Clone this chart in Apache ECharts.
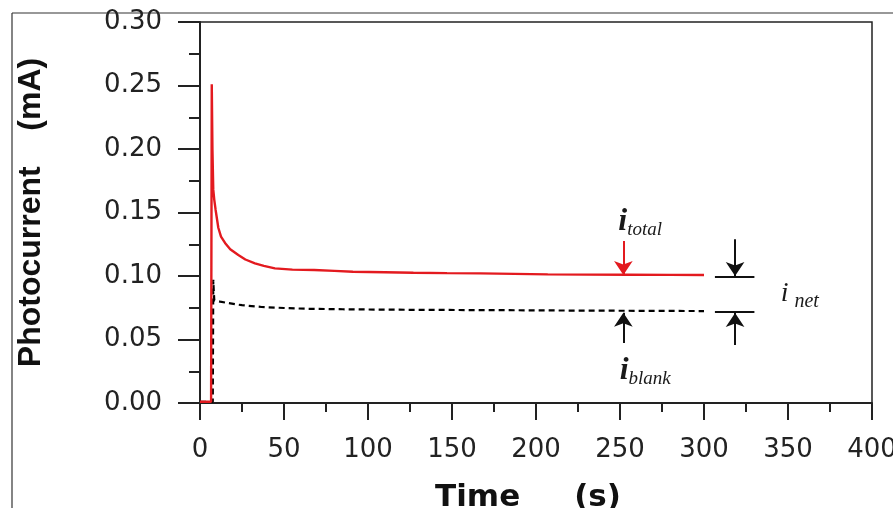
<!DOCTYPE html>
<html>
<head>
<meta charset="utf-8">
<script src="https://cdn.jsdelivr.net/npm/echarts@6/dist/echarts.min.js"></script>
<style>
html,body{margin:0;padding:0;background:#fff;}
#c{width:893px;height:508px;}
</style>
</head>
<body>
<div id="c"></div>
<script>
// ---- data ----
const xTicks = [0, 50, 100, 150, 200, 250, 300, 350, 400];
const yTicks = ['0.00', '0.05', '0.10', '0.15', '0.20', '0.25', '0.30'];

const timeTotal = [0, 6.6, 7.0, 7.4, 7.9, 8.5, 9.3, 10.9, 12.5, 14.9, 18, 22.8, 27, 32.7, 38, 44.6, 55, 68, 80, 91, 110, 127, 147, 167, 187, 207, 230, 255, 280, 300];
const totalCurrent = [0.001, 0.001, 0.251, 0.200, 0.168, 0.160, 0.152, 0.138, 0.131, 0.126, 0.121, 0.1165, 0.113, 0.110, 0.108, 0.106, 0.105, 0.1047, 0.104, 0.1034, 0.103, 0.1026, 0.1023, 0.1021, 0.1017, 0.1013, 0.1011, 0.1010, 0.1009, 0.1008];

const timeBlank = [0, 7.6, 7.9, 8.2, 8.5, 10, 12, 16.7, 25, 36.7, 50, 64, 85, 110, 140, 178, 220, 260, 300];
const blankCurrent = [0.001, 0.001, 0.097, 0.088, 0.081, 0.0805, 0.0798, 0.0787, 0.0770, 0.0756, 0.0748, 0.0742, 0.0738, 0.0735, 0.0733, 0.0731, 0.0728, 0.0726, 0.0724];

// annotation anchor points (data coordinates)
const arrowTotal = [[252, 0.1276], [252, 0.1008]];
const arrowBlank = [[252, 0.0472], [252, 0.0711]];
const netTopLine = [[306.5, 0.0998], [330, 0.0998]];
const netBotLine = [[306.5, 0.0717], [330, 0.0717]];
const netArrowDown = [[318.5, 0.129], [318.5, 0.1000]];
const netArrowUp = [[318.5, 0.0457], [318.5, 0.0709]];
const labelTotal = [262, 0.1435];
const labelBlank = [265, 0.0262];
const labelNet = [357, 0.0850];

const pair = (xs, ys) => xs.map((x, i) => [x, ys[i]]);
const seg = (p) => [{ coord: p[0] }, { coord: p[1] }];

const chart = echarts.init(document.getElementById('c'), null, { renderer: 'canvas' });

const tickFont = { fontFamily: 'DejaVu Sans', fontSize: 26, color: '#222' };

chart.setOption({
  animation: false,
  backgroundColor: '#fff',
  grid: {
    left: 200, right: 21, top: 22, bottom: 105,
    outerBoundsMode: 'none', containLabel: false,
    show: true, borderColor: '#222', borderWidth: 1.5, backgroundColor: 'transparent'
  },
  xAxis: {
    type: 'value', min: 0, max: 400, interval: 50,
    offset: 4,
    name: 'Time     (s)',
    nameLocation: 'middle', nameGap: 75,
    nameTextStyle: { fontFamily: 'DejaVu Sans', fontWeight: 'bold', fontSize: 31, color: '#111', padding: [0, 16, 0, 0] },
    axisLine: { show: true, lineStyle: { color: '#222', width: 2 } },
    axisTick: { show: true, inside: false, length: 17, lineStyle: { color: '#222', width: 2 } },
    minorTick: { show: true, splitNumber: 2, length: 9, lineStyle: { color: '#222', width: 2 } },
    axisLabel: Object.assign({ margin: 30, hideOverlap: false, showMaxLabel: true, formatter: v => String(v) }, tickFont),
    splitLine: { show: false }
  },
  yAxis: {
    type: 'value', min: 0, max: 0.30, interval: 0.05,
    offset: 3,
    name: 'Photocurrent    (mA)',
    nameLocation: 'middle', nameGap: 150,
    nameTextStyle: { fontFamily: 'Liberation Sans', fontWeight: 'bold', fontSize: 32, color: '#111' },
    axisLine: { show: true, lineStyle: { color: '#222', width: 2 } },
    axisTick: { show: true, inside: false, length: 22, lineStyle: { color: '#222', width: 2 } },
    minorTick: { show: true, splitNumber: 2, length: 11, lineStyle: { color: '#222', width: 2 } },
    axisLabel: Object.assign({ margin: 35, formatter: v => yTicks[Math.round(v / 0.05)] }, tickFont),
    splitLine: { show: false }
  },
  graphic: [
    { type: 'line', shape: { x1: 12, y1: 13, x2: 893, y2: 13 }, style: { stroke: '#333', lineWidth: 1.2 } },
    { type: 'line', shape: { x1: 12, y1: 13, x2: 12, y2: 508 }, style: { stroke: '#333', lineWidth: 1.2 } }
  ],
  series: [
    {
      name: 'blank', type: 'line', showSymbol: false, symbol: 'none',
      data: pair(timeBlank, blankCurrent),
      lineStyle: { color: '#000', width: 2.2, type: [6, 4] },
      z: 2,
      markLine: {
        silent: true, animation: false,
        label: { show: false },
        lineStyle: { color: '#111', width: 2, type: 'solid' },
        symbol: ['none', 'none'],
        data: [
          seg(arrowBlank),
          seg(netTopLine),
          seg(netBotLine),
          seg(netArrowDown),
          seg(netArrowUp)
        ].map((d, i) => {
          const arrow = (i === 0 || i === 3 || i === 4);
          d[0].symbol = 'none';
          d[1].symbol = arrow ? 'arrow' : 'none';
          d[1].symbolSize = arrow ? [14, 14] : 0;
          return d;
        })
      },
      markPoint: {
        silent: true, animation: false,
        symbol: 'rect', symbolSize: 1,
        itemStyle: { color: 'rgba(0,0,0,0)' },
        label: {
          show: true, position: 'inside', color: '#1a1a1a',
          rich: {
            i: { fontFamily: 'Liberation Serif', fontStyle: 'italic', fontWeight: 'bold', fontSize: 32, lineHeight: 30, verticalAlign: 'top', color: '#1a1a1a' },
            s: { fontFamily: 'Liberation Serif', fontStyle: 'italic', fontSize: 19, lineHeight: 18, padding: [15, 0, 0, 0], verticalAlign: 'top', color: '#1a1a1a' },
            n: { fontFamily: 'Liberation Serif', fontStyle: 'italic', fontSize: 28, lineHeight: 30, verticalAlign: 'top', color: '#1a1a1a' },
            ns: { fontFamily: 'Liberation Serif', fontStyle: 'italic', fontSize: 20, lineHeight: 20, padding: [12, 0, 0, 6], verticalAlign: 'top', color: '#1a1a1a' }
          }
        },
        data: [
          { coord: labelTotal, value: 0, label: { formatter: '{i|i}{s|total}' } },
          { coord: labelBlank, value: 0, label: { formatter: '{i|i}{s|blank}' } },
          { coord: labelNet, value: 0, label: { formatter: '{n|i}{ns|net}' } }
        ]
      }
    },
    {
      name: 'total', type: 'line', showSymbol: false, symbol: 'none',
      data: pair(timeTotal, totalCurrent),
      lineStyle: { color: '#e31a1f', width: 2.4 },
      z: 3,
      markLine: {
        silent: true, animation: false,
        label: { show: false },
        lineStyle: { color: '#e31a1f', width: 2, type: 'solid' },
        symbol: ['none', 'arrow'],
        symbolSize: [14, 14],
        data: [seg(arrowTotal)]
      }
    }
  ]
});
</script>
</body>
</html>
